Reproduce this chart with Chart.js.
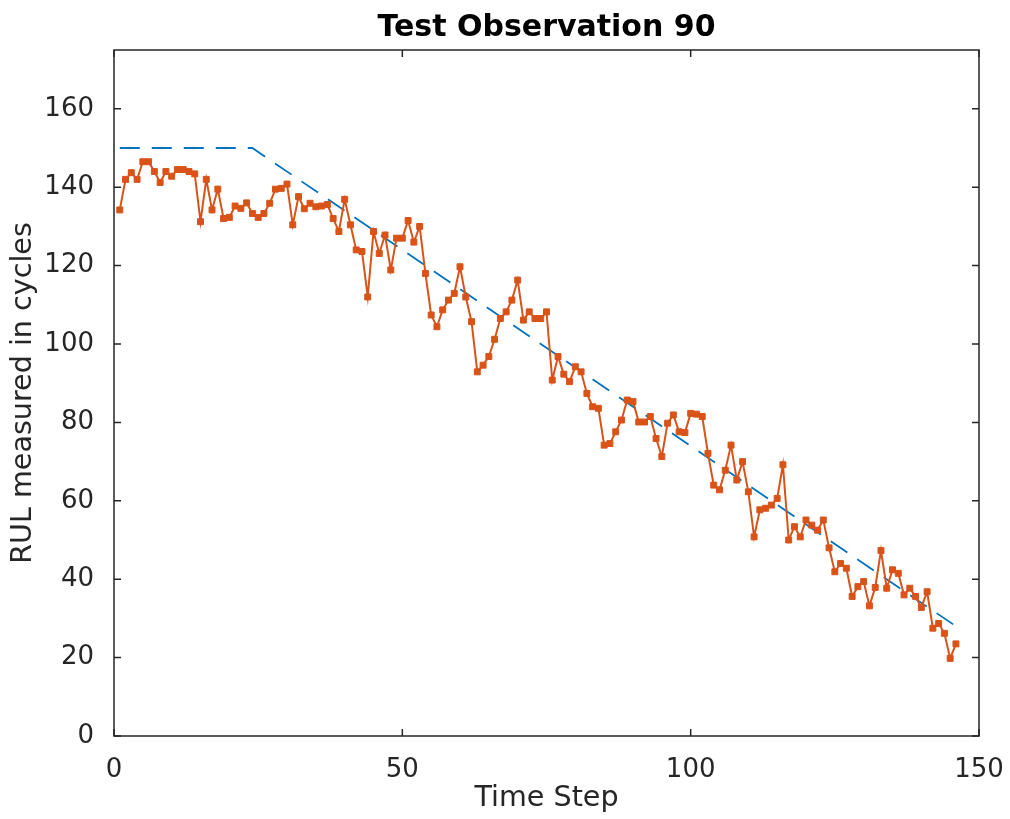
<!DOCTYPE html>
<html>
<head>
<meta charset="utf-8">
<script src="https://cdn.jsdelivr.net/npm/chart.js@4/dist/chart.umd.min.js"></script>
<style>
  html, body { margin: 0; padding: 0; background: #ffffff; }
  #wrap { width: 1010px; height: 819px; position: relative; }
</style>
</head>
<body>
<div id="wrap"><canvas id="c"></canvas></div>
<script>
// ---- data ----
const chartTitle = "Test Observation 90";
const xLabel = "Time Step";
const yLabel = "RUL measured in cycles";

// true RUL (dashed blue): breakpoints of the piecewise line
const trueRulSteps = [1, 24, 146];
const trueRul = [150, 150, 28];

// predicted RUL (orange), one value per time step starting at 1
const predictedRul = [
  134.2, 142.0, 143.7, 142.0, 146.5, 146.5, 144.0, 141.2, 144.0, 142.8,
  144.5, 144.5, 144.0, 143.4, 131.2, 142.0, 134.2, 139.5, 132.0, 132.3,
  135.2, 134.6, 136.0, 133.3, 132.3, 133.3, 135.9, 139.5, 139.7, 140.8,
  130.4, 137.6, 134.5, 135.9, 135.0, 135.2, 135.6, 132.0, 128.7, 136.9,
  130.4, 124.0, 123.6, 112.0, 128.7, 123.1, 127.8, 118.9, 127.0, 127.0,
  131.5, 126.0, 130.0, 118.0, 107.4, 104.4, 108.7, 111.2, 112.9, 119.7,
  112.0, 105.7, 92.9, 94.6, 96.8, 101.2, 106.5, 108.2, 111.2, 116.3,
  106.1, 108.2, 106.5, 106.5, 108.2, 90.8, 96.8, 92.3, 90.4, 94.2,
  92.9, 87.4, 84.0, 83.6, 74.2, 74.6, 77.6, 80.6, 85.7, 85.3,
  80.1, 80.1, 81.5, 75.9, 71.3, 79.8, 81.9, 77.6, 77.4, 82.3,
  82.1, 81.5, 72.1, 64.0, 62.8, 67.8, 74.2, 65.3, 70.0,
  62.3, 50.8, 57.7, 58.1, 58.9, 60.6, 69.2, 50.0, 53.4, 50.8,
  55.1, 53.8, 52.5, 55.1, 48.0, 41.9, 44.0, 42.8, 35.6, 38.1,
  39.4, 33.2, 37.9, 47.3, 37.7, 42.4, 41.5, 36.0, 37.7, 35.6,
  32.8, 36.8, 27.5, 28.7, 26.2, 19.8, 23.5
];

const xTicks = [0, 50, 100, 150];
const yTicks = [0, 20, 40, 60, 80, 100, 120, 140, 160];
const xRange = [0, 150];
const yRange = [0, 175];

// ---- build chart ----
const FONT = "'DejaVu Sans', 'Liberation Sans', sans-serif";
const AXIS_COLOR = '#262626';

const truePoints = trueRulSteps.map((s, i) => ({ x: s, y: trueRul[i] }));
const predPoints = predictedRul.map((v, i) => ({ x: i + 1, y: v }));

const boxPlugin = {
  id: 'matlabBox',
  afterDraw(chart) {
    const { ctx, chartArea: a, scales } = chart;
    const tick = 7;
    ctx.save();
    ctx.strokeStyle = AXIS_COLOR;
    ctx.lineWidth = 1.5;
    ctx.beginPath();
    ctx.rect(a.left, a.top, a.right - a.left, a.bottom - a.top);
    ctx.stroke();
    ctx.beginPath();
    xTicks.forEach(v => {
      const px = scales.x.getPixelForValue(v);
      ctx.moveTo(px, a.bottom); ctx.lineTo(px, a.bottom - tick);
      ctx.moveTo(px, a.top); ctx.lineTo(px, a.top + tick);
    });
    yTicks.forEach(v => {
      const py = scales.y.getPixelForValue(v);
      ctx.moveTo(a.left, py); ctx.lineTo(a.left + tick, py);
      ctx.moveTo(a.right, py); ctx.lineTo(a.right - tick, py);
    });
    ctx.stroke();
    // title centred over the axes box, as MATLAB does
    ctx.fillStyle = '#000000';
    ctx.font = "bold 30px " + FONT;
    ctx.textAlign = 'center';
    ctx.textBaseline = 'alphabetic';
    ctx.fillText(chartTitle, (a.left + a.right) / 2, 36);
    ctx.restore();
  }
};

new Chart(document.getElementById('c'), {
  type: 'scatter',
  data: {
    datasets: [
      {
        label: 'True RUL',
        data: truePoints,
        showLine: true,
        borderColor: '#0072BD',
        borderWidth: 1.8,
        borderDash: [20, 12],
        pointRadius: 0,
        tension: 0,
        order: 2
      },
      {
        label: 'Predicted RUL',
        data: predPoints,
        showLine: true,
        borderColor: '#D95319',
        backgroundColor: '#D95319',
        borderWidth: 2,
        pointStyle: 'rect',
        pointRadius: 4.2,
        pointBorderWidth: 1,
        pointBorderColor: '#D95319',
        pointBackgroundColor: '#D95319',
        tension: 0,
        order: 1
      }
    ]
  },
  options: {
    responsive: true,
    maintainAspectRatio: false,
    animation: false,
    devicePixelRatio: 1,
    layout: { padding: { left: 0, right: 31, top: 0, bottom: 0 } },
    plugins: {
      legend: { display: false },
      tooltip: { enabled: false },
      title: {
        // reserves the title band; the visible text is drawn centred on the axes
        display: true,
        text: chartTitle,
        color: 'rgba(0,0,0,0)',
        font: { family: FONT, size: 30, weight: 'bold' },
        padding: { top: 7.5, bottom: 6.5 }
      }
    },
    scales: {
      x: {
        type: 'linear',
        min: xRange[0], max: xRange[1],
        afterBuildTicks: s => { s.ticks = xTicks.map(v => ({ value: v })); },
        afterFit: s => { s.height = 83; s.paddingLeft = 0; s.paddingRight = 0; },
        grid: { display: false },
        border: { display: false },
        ticks: {
          color: AXIS_COLOR,
          font: { family: FONT, size: 26 },
          padding: 11,
          maxRotation: 0,
          autoSkip: false
        },
        title: {
          display: true,
          text: xLabel,
          color: AXIS_COLOR,
          font: { family: FONT, size: 28.6 },
          padding: { top: 0, bottom: 3 }
        }
      },
      y: {
        type: 'linear',
        min: yRange[0], max: yRange[1],
        afterBuildTicks: s => { s.ticks = yTicks.map(v => ({ value: v })); },
        afterFit: s => { s.width = 114; s.paddingTop = 0; s.paddingBottom = 0; },
        grid: { display: false },
        border: { display: false },
        ticks: {
          color: AXIS_COLOR,
          font: { family: FONT, size: 26 },
          padding: 12,
          autoSkip: false
        },
        title: {
          display: true,
          text: yLabel,
          color: AXIS_COLOR,
          font: { family: FONT, size: 28.6 },
          padding: { top: 6, bottom: 0 }
        }
      }
    }
  },
  plugins: [boxPlugin]
});
</script>
</body>
</html>
